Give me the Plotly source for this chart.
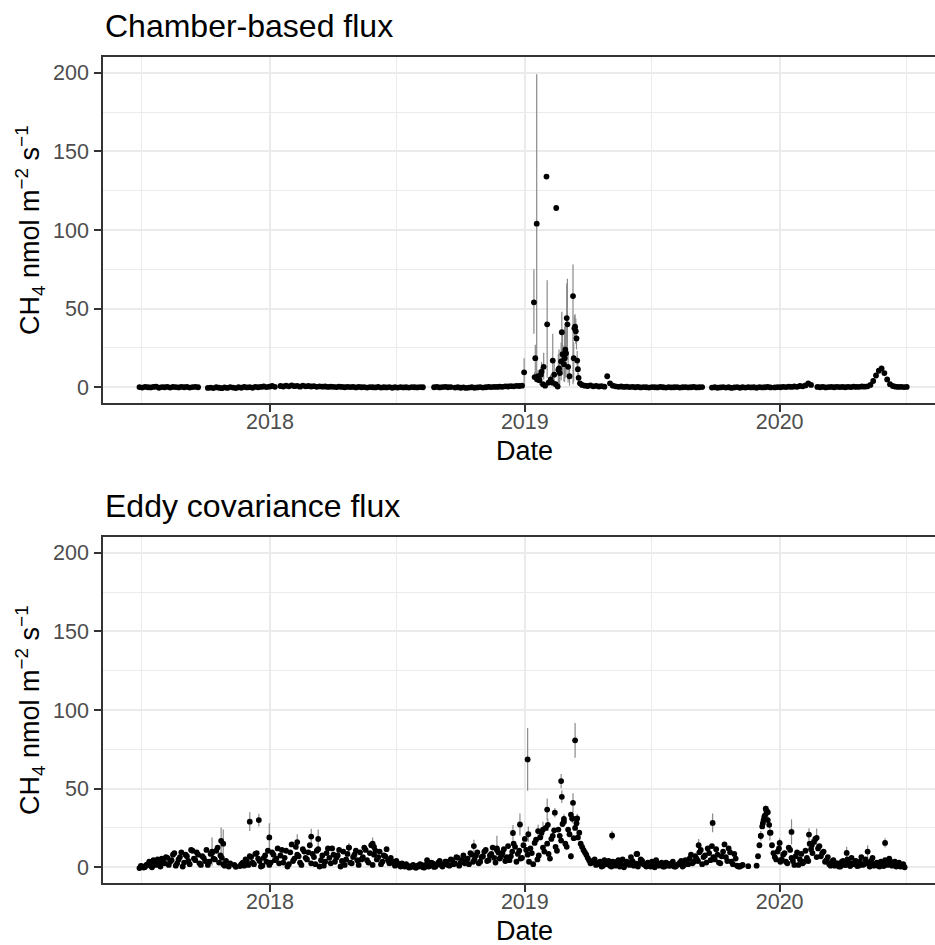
import pandas as pd
import plotly.graph_objects as go

# ---------------- Chamber-based flux ----------------
# baseline segments sampled every 4 days
cham_step_days = 4
cham_seg_starts = ["2017-06-28", "2017-10-04", "2018-01-16", "2018-08-24", "2018-09-23",
                   "2019-03-24", "2019-09-26", "2019-12-25", "2020-02-24"]
cham_seg_a = [0.1, -0.2, 0.3, 0.0, -0.1, 0.2, 0.4, -0.3, 0.1, 0.0, 0.3, -0.2, 0.2, 0.1, -0.1, 0.3,
              0.0, 0.2, -0.2, 0.1, 0.3, 0.0]
cham_seg_b = [-0.4, -0.2, -0.5, 0.0, -0.3, -0.6, -0.1, -0.4, 0.1, -0.2, -0.5, 0.0, -0.3, 0.2, -0.1,
              0.1, -0.3, 0.3, 0.0, 0.2, 0.5, 0.1, 0.4, 0.8, 0.3]
cham_seg_c = [0.8, 0.5, 1.0, 0.6, 1.2, 0.7, 0.9, 0.4, 1.1, 0.6, 0.8, 0.5, 0.7, 0.3, 0.6, 0.4, 0.5,
              0.2, 0.4, 0.3, 0.1, 0.4, 0.2, 0.0, 0.3, 0.1, 0.2, -0.1, 0.2, 0.0, 0.1, -0.2, 0.1, 0.0,
              -0.1, 0.2, -0.2, 0.0, -0.1, 0.1, -0.3, 0.0, -0.2, 0.1, -0.1, 0.0, -0.2, 0.1, 0.0, -0.1,
              0.1, 0.0]
cham_seg_d = [0.0, 0.2, -0.1, 0.1, 0.3, 0.0, 0.1]
cham_seg_e = [-0.2, 0.0, -0.3, -0.1, -0.4, -0.2, 0.0, -0.3, -0.1, 0.1, -0.2, 0.0, 0.2, 0.1, 0.3,
              0.2, 0.4, 0.3, 0.6, 0.5, 0.7, 0.6, 0.9, 0.8, 1.0]
cham_seg_f = [1.5, 1.0, 0.8, 1.2, 0.6, 0.9, 0.5, 0.7, 0.4, 7.0, 2.5, 1.0, 0.6, 0.3, 0.5, 0.2, 0.4,
              0.1, 0.3, 0.0, 0.2, -0.1, 0.1, 0.0, -0.2, 0.1, 0.0, -0.1, 0.2, 0.0, -0.2, 0.1, -0.1,
              0.0, 0.1, -0.2, 0.0, 0.1, -0.1, 0.0, 0.2, -0.1, 0.0, 0.1]
cham_seg_g = [-0.2, 0.0, -0.3, -0.1, 0.1, -0.2, 0.0, -0.4, -0.1, 0.1, -0.3, 0.0, -0.2, 0.1, -0.1,
              0.0, -0.3, 0.1, -0.1, 0.0, 0.2, -0.1]
cham_seg_h = [-0.1, 0.1, 0.0, 0.3, 0.1, 0.4, 0.2, 0.5, 0.3, 0.8, 0.6, 1.2, 2.5, 1.5]
cham_seg_i = [0.2, 0.0, 0.3, -0.1, 0.1, 0.2, 0.0, 0.3, 0.1, 0.2, 0.0, 0.3, 0.1, 0.4, 0.2, 0.3, 0.5,
              0.4, 0.6, 1.5, 4.0, 7.5, 10.5, 12.0, 9.0, 5.0, 2.0, 0.8, 0.4, 0.2, 0.3, 0.1, 0.2]
cham_segments = [cham_seg_a, cham_seg_b, cham_seg_c, cham_seg_d, cham_seg_e,
                 cham_seg_f, cham_seg_g, cham_seg_h, cham_seg_i]

# winter 2019 emission pulse (individual measurements with error bars)
cham_peak_dates = ["2018-12-31", "2019-01-14", "2019-01-15", "2019-01-16", "2019-01-18",
                   "2019-01-19", "2019-01-20", "2019-01-22", "2019-01-24", "2019-01-25",
                   "2019-01-27", "2019-01-28", "2019-01-30", "2019-02-01", "2019-02-02",
                   "2019-02-04", "2019-02-07", "2019-02-09", "2019-02-10", "2019-02-12",
                   "2019-02-14", "2019-02-15", "2019-02-17", "2019-02-18", "2019-02-19",
                   "2019-02-20", "2019-02-22", "2019-02-23", "2019-02-24", "2019-02-26",
                   "2019-02-27", "2019-02-28", "2019-03-01", "2019-03-02", "2019-03-03",
                   "2019-03-04", "2019-03-06", "2019-03-11", "2019-03-12", "2019-03-13",
                   "2019-03-14", "2019-03-15", "2019-03-16", "2019-03-17", "2019-03-18",
                   "2019-03-19", "2019-03-21"]
cham_peak_vals = [9.5, 54, 6.5, 18.5, 104, 5, 7, 4.5, 8, 10,
                  2, 13, 1, 134, 40, 3, 5, 3, 17, 8,
                  2, 114, 0.5, 11, 12, 9, 16.5, 35, 21, 14.7,
                  18.5, 24, 21.6, 44, 40, 13, 7, 58, 18.5, 37.6,
                  38.5, 35.7, 31, 17, 11.5, 6, 2.5]
cham_peak_err_up = [9, 21, 3, 8.5, 95, 2, 4, 3, 5, 6,
                    1, 9, 1, 1, 28, 2, 3, 2, 17, 10,
                    2, 1, 1, 10, 12, 8, 12, 13, 15, 12,
                    20, 16, 14, 22, 29, 10, 6, 20, 10, 8,
                    8, 8, 7, 6, 5, 3, 1]
cham_peak_err_dn = [9, 20, 3, 12, 98, 2, 4, 3, 5, 6,
                    1, 8, 1, 1, 34, 2, 3, 2, 15, 6,
                    2, 1, 1, 9, 10, 7, 12, 27, 13, 11,
                    15, 18, 15, 27, 22, 10, 6, 56, 15, 8,
                    8, 8, 7, 6, 5, 3, 1]

# ---------------- Eddy covariance flux ----------------
# two interleaved 4-day series (offset by 2 days)
ec_step_days = 4
ec_start_a = "2017-06-28"
ec_vals_a = [
    -0.5, 0.5, 0.2, 2.0, 1.0, 4.5, 1.5, 3.0, 5.5, 2.5,
    6.0, 3.5, 8.0, 1.0, 5.0, 9.5, 3.0, 7.0, 2.0, 10.5,
    4.5, 8.0, 1.5, 6.0, 11.0, 3.5, 9.0, 5.0, 12.5, 7.5,
    2.0, 4.0, 0.5, None, 1.5, None, 0.8, 3.0, 5.0, 1.5,
    6.5, 2.0, 9.0, 4.0, 1.0, 7.5, 10.5, 3.0, 8.0, 5.5,
    2.5, 11.0, 6.0, 0.5, 9.5, 4.0, 13.0, 7.0, 1.5, 10.0,
    5.0, 14.0, 8.5, 2.0, 11.5, 4.5, 1.0, 9.0, 6.0, 12.0,
    3.5, 7.5, 0.5, 10.0, 5.0, 12.5, 2.5, 8.0, 4.5, 9.5,
    6.5, 11.0, 3.0, 14.0, 8.0, 5.0, 10.0, 3.5, 7.0, 4.5,
    6.0, 2.5, 4.0, 1.5, 2.5, 0.5, 1.0, 0.0, 1.5, -0.3,
    0.5, 1.5, -0.2, 4.5, 1.0, 2.5, 0.5, 3.0, 1.5, 2.0,
    3.5, 1.0, 4.5, 2.5, 6.0, 3.0, 7.5, 4.0, 2.0, 8.0,
    5.0, 9.5, 3.5, 7.0, 11.0, 4.5, 8.5, 6.0, 12.0, 5.5,
    9.0, 4.0, 13.5, 7.0, 15.0, 3.5, 10.5, 6.0, 18.0, 8.0,
    12.0, 2.0, 17.5, 7.5, 22.0, 10.0, 15.0, 5.5, 20.0, 13.0,
    24.0, 17.0, 29.0, 13.0, 21.0, 31.0, 25.0, 19.0, 15.0, 11.0,
    8.0, 4.5, 3.0, 5.0, 2.0, 3.5, 1.0, 2.5, 4.0, 0.5,
    2.0, 3.5, 0.5, 5.0, 1.5, 3.0, 6.5, 1.0, 8.5, 2.5,
    4.0, 1.5, 3.0, 0.5, 2.0, 4.5, 1.0, 3.0, 0.5, 2.5,
    1.0, 3.5, 0.5, 2.0, 4.0, 1.5, 3.0, 5.5, 2.5, 7.0,
    4.0, 11.0, 6.5, 3.0, 9.0, 13.5, 5.0, 8.0, 2.5, 10.0,
    6.5, 12.0, 3.5, 8.5, 1.0, 0.5, 1.5, None, 0.7, None,
    None, 1.0, 14.0, 26.0, 33.0, 30.0, 22.0, 9.0, 5.0, 12.0,
    5.0, 9.0, 2.5, 11.0, 4.0, 7.0, 1.5, 8.5, 3.5, 6.0,
    15.0, 9.0, 18.0, 12.0, 7.0, 10.0, 4.5, 2.0, 3.5, 1.0,
    2.5, 0.5, 4.0, 1.5, 3.0, 6.0, 2.0, 0.8, 3.5, 1.5,
    5.0, 2.5, 4.0, 1.0, 3.0, 0.5, 2.0, 4.5, 1.5, 3.5,
    2.0, 0.5, 3.0, 1.0, 0.0,
]
ec_start_b = "2017-06-30"
ec_vals_b = [
    0.8, -0.2, 1.5, 3.5, 0.0, 2.5, 5.0, 0.5, 3.5, 6.5,
    1.5, 4.5, 9.0, 2.5, 6.5, 0.5, 8.0, 4.0, 11.0, 5.5,
    9.5, 2.5, 7.0, 4.0, 1.5, 8.5, 5.5, 10.5, 3.0, 6.0,
    1.0, None, 2.5, None, 0.3, None, 2.0, 1.0, 3.5, 7.0,
    3.0, 8.5, 5.5, 0.5, 6.0, 3.5, 1.5, 9.5, 4.5, 12.0,
    7.5, 3.0, 10.5, 2.0, 14.5, 5.5, 8.0, 3.0, 11.5, 6.0,
    9.5, 2.5, 6.5, 10.5, 0.5, 7.5, 3.5, 12.0, 2.5, 8.0,
    6.0, 11.0, 4.0, 1.5, 8.5, 3.0, 6.5, 10.5, 1.5, 5.0,
    12.5, 4.5, 9.0, 1.5, 10.5, 6.5, 2.0, 7.5, 11.5, 2.5,
    3.5, 1.0, 2.5, 0.5, 1.5, 2.0, -0.2, 0.8, 0.2, 1.0,
    2.0, 0.0, 1.5, 0.5, 3.0, 0.2, 1.8, 4.0, 0.5, 3.5,
    1.5, 5.0, 2.0, 6.5, 1.0, 4.5, 2.5, 5.5, 9.0, 3.5,
    7.5, 2.5, 6.5, 10.0, 4.0, 7.5, 12.5, 3.0, 9.5, 7.0,
    11.5, 6.5, 4.5, 10.0, 13.0, 8.5, 5.5, 14.0, 11.0, 3.5,
    9.0, 15.5, 5.0, 19.0, 12.5, 25.0, 8.5, 18.0, 23.5, 10.5,
    20.0, 27.5, 15.0, 24.0, 33.5, 18.5, 28.0, 22.0, 13.0, 9.5,
    6.0, 2.5, 4.0, 1.5, 3.0, 0.5, 4.5, 2.0, 1.0, 3.5,
    1.0, 4.5, 2.0, 0.0, 3.5, 1.5, 4.0, 2.5, 0.5, 5.0,
    2.0, 0.5, 1.5, 3.5, 0.0, 2.5, 1.5, 0.5, 3.0, 1.0,
    2.5, 0.5, 1.5, 3.0, 0.5, 4.5, 2.0, 8.0, 3.5, 5.5,
    9.5, 2.0, 7.5, 12.0, 4.5, 6.5, 11.5, 3.0, 7.0, 14.5,
    4.0, 9.5, 2.0, 5.5, 0.5, 1.0, None, None, None, None,
    None, 7.0, 20.0, 30.0, 36.0, 27.0, 14.0, 6.5, 10.0, 3.5,
    8.0, 3.5, 12.5, 6.0, 1.5, 9.5, 5.0, 2.5, 10.5, 4.0,
    11.5, 16.0, 6.5, 13.5, 9.0, 3.5, 6.5, 1.0, 4.5, 2.5,
    0.5, 3.5, 1.5, 5.0, 0.8, 2.5, 4.0, 1.0, 6.5, 2.0,
    3.0, 0.5, 6.0, 2.0, 1.0, 3.5, 0.8, 2.5, 5.5, 1.0,
    3.5, 1.5, 0.5, 2.0, None,
]
ec_extra_dates = ["2017-10-10", "2017-10-23", "2017-10-26", "2017-12-03", "2017-12-16",
                  "2017-12-31", "2018-02-09", "2018-03-01", "2018-03-11", "2018-04-24",
                  "2018-05-28", "2018-05-30", "2018-10-20", "2018-11-22", "2018-12-15",
                  "2018-12-25", "2019-01-05", "2019-01-06", "2019-01-20", "2019-01-27",
                  "2019-02-02", "2019-02-03", "2019-02-13", "2019-02-22", "2019-02-23",
                  "2019-02-26", "2019-03-08", "2019-03-10", "2019-03-11", "2019-03-14",
                  "2019-03-17", "2019-05-06", "2019-06-11", "2019-09-07", "2019-09-27",
                  "2019-12-05", "2019-12-08", "2019-12-10", "2019-12-12", "2019-12-15",
                  "2019-12-18", "2020-01-01", "2020-01-18", "2020-02-12", "2020-02-16",
                  "2020-02-23", "2020-04-06", "2020-05-06", "2020-05-31"]
ec_extra_vals = [10, 16.8, 15, 29, 30, 19, 16, 19.5, 18, 12.5,
                 15, 13, 13.5, 11, 21.8, 27.2, 68.6, 21, 23, 24,
                 36.7, 27, 34.7, 54.8, 44.8, 30.7, 7, 31, 41, 80.7,
                 31, 20.2, 8.5, 14, 28.2, 20, 28, 32, 37.3, 35,
                 22, 15.5, 22.5, 20.8, 14, 18.7, 9.1, 10, 15.5]
ec_extra_err = [9, 8.5, 9, 6, 4, 9, 5, 5, 6, 3,
                4, 3, 4, 9, 5, 7, 20, 5, 4, 5,
                7, 4, 3, 4.5, 4, 3, 2, 3, 6, 11,
                3, 3, 2, 4, 6, 3, 3, 3, 2, 4,
                5, 3, 8, 4, 4, 6, 4, 4, 3]

# ---------------- assemble ----------------
cham_x, cham_y, cham_eu, cham_ed = [], [], [], []
for start, vals in zip(cham_seg_starts, cham_segments):
    dts = pd.date_range(start, periods=len(vals), freq=f"{cham_step_days}D")
    cham_x += list(dts)
    cham_y += vals
    cham_eu += [0] * len(vals)
    cham_ed += [0] * len(vals)
cham_x += list(pd.to_datetime(cham_peak_dates))
cham_y += cham_peak_vals
cham_eu += cham_peak_err_up
cham_ed += cham_peak_err_dn

ec_x, ec_y, ec_eu = [], [], []
for start, vals in [(ec_start_a, ec_vals_a), (ec_start_b, ec_vals_b)]:
    ec_x += list(pd.date_range(start, periods=len(vals), freq=f"{ec_step_days}D"))
    ec_y += list(vals)
    ec_eu += [0] * len(vals)
ec_x += list(pd.to_datetime(ec_extra_dates))
ec_y += ec_extra_vals
ec_eu += ec_extra_err

W, H = 935, 945
FONT = "Liberation Sans, Arial, Helvetica, sans-serif"
ERR_COLOR = "#8a8a8a"
GRID = "#EBEBEB"
BORDER = "#333333"
MSIZE = 5.8

fig = go.Figure()
# error bars first (under points)
fig.add_trace(go.Scatter(x=cham_x, y=cham_y, mode="markers", xaxis="x", yaxis="y",
                         marker=dict(size=1, opacity=0),
                         error_y=dict(type="data", symmetric=False, array=cham_eu,
                                      arrayminus=cham_ed, color=ERR_COLOR, thickness=1.2, width=0),
                         showlegend=False, hoverinfo="skip"))
fig.add_trace(go.Scatter(x=cham_x, y=cham_y, mode="markers", xaxis="x", yaxis="y",
                         marker=dict(size=MSIZE, color="black"), showlegend=False))
fig.add_trace(go.Scatter(x=ec_x, y=ec_y, mode="markers", xaxis="x2", yaxis="y2",
                         marker=dict(size=1, opacity=0),
                         error_y=dict(type="data", array=ec_eu, color=ERR_COLOR,
                                      thickness=1.2, width=0),
                         showlegend=False, hoverinfo="skip"))
fig.add_trace(go.Scatter(x=ec_x, y=ec_y, mode="markers", xaxis="x2", yaxis="y2",
                         marker=dict(size=MSIZE, color="black"), showlegend=False))

x_range = ["2017-05-06 19:00", "2020-08-10 12:00"]
year_ticks = ["2018-01-01", "2019-01-01", "2020-01-01"]
year_labels = ["2018", "2019", "2020"]
mid_years = ["2017-07-01", "2018-07-01", "2019-07-01", "2020-07-01"]
y_ticks = [0, 50, 100, 150, 200]
y_minor = [25, 75, 125, 175]

def xaxis_cfg(anchor):
    return dict(domain=[103 / W, 1.0], anchor=anchor, type="date", range=x_range,
                tickmode="array", tickvals=year_ticks, ticktext=year_labels,
                showgrid=True, gridcolor=GRID, gridwidth=2,
                minor=dict(tickmode="array", tickvals=mid_years, showgrid=True,
                           gridcolor=GRID, gridwidth=1, ticks=""),
                showline=True, linecolor=BORDER, linewidth=1.5, mirror=True,
                ticks="outside", ticklen=7, tickwidth=1.5, tickcolor=BORDER,
                tickfont=dict(family=FONT, size=21.5, color="#4D4D4D"),
                ticklabelstandoff=-9, zeroline=False, fixedrange=True)

def yaxis_cfg(anchor, top, bottom):
    return dict(domain=[1 - bottom / H, 1 - top / H], anchor=anchor, range=[-10, 210],
                tickmode="array", tickvals=y_ticks,
                showgrid=True, gridcolor=GRID, gridwidth=2,
                minor=dict(tickmode="array", tickvals=y_minor, showgrid=True,
                           gridcolor=GRID, gridwidth=1, ticks=""),
                showline=True, linecolor=BORDER, linewidth=1.5, mirror=False,
                ticks="outside", ticklen=7, tickwidth=1.5, tickcolor=BORDER,
                tickfont=dict(family=FONT, size=21.5, color="#4D4D4D"),
                ticklabelstandoff=1, zeroline=False, fixedrange=True)

ytitle = "CH<sub>4</sub> nmol m<sup>\u22122</sup> s<sup>\u22121</sup>"
annotations = []
for top, title in [(57, "Chamber-based flux"), (537, "Eddy covariance flux")]:
    bottom = top + 346
    annotations.append(dict(text=title, x=103 / W, y=1 - (top - 31) / H, xref="paper", yref="paper",
                            xanchor="left", yanchor="middle", showarrow=False,
                            font=dict(family=FONT, size=32, color="black")))
    annotations.append(dict(text="Date", x=524.5 / W, y=1 - (bottom + 48) / H, xref="paper",
                            yref="paper", xanchor="center", yanchor="middle", showarrow=False,
                            font=dict(family=FONT, size=27, color="black")))
    annotations.append(dict(text=ytitle, x=30 / W, y=1 - (top + 173) / H, xref="paper",
                            yref="paper", xanchor="center", yanchor="middle", textangle=-90,
                            showarrow=False, font=dict(family=FONT, size=27, color="black")))

fig.update_layout(
    width=W, height=H, margin=dict(l=0, r=0, t=0, b=0),
    paper_bgcolor="white", plot_bgcolor="white",
    xaxis=xaxis_cfg("y"), yaxis=yaxis_cfg("x", 57, 403),
    xaxis2=xaxis_cfg("y2"), yaxis2=yaxis_cfg("x2", 537, 883),
    annotations=annotations, showlegend=False,
)

fig.write_html("out.html")
